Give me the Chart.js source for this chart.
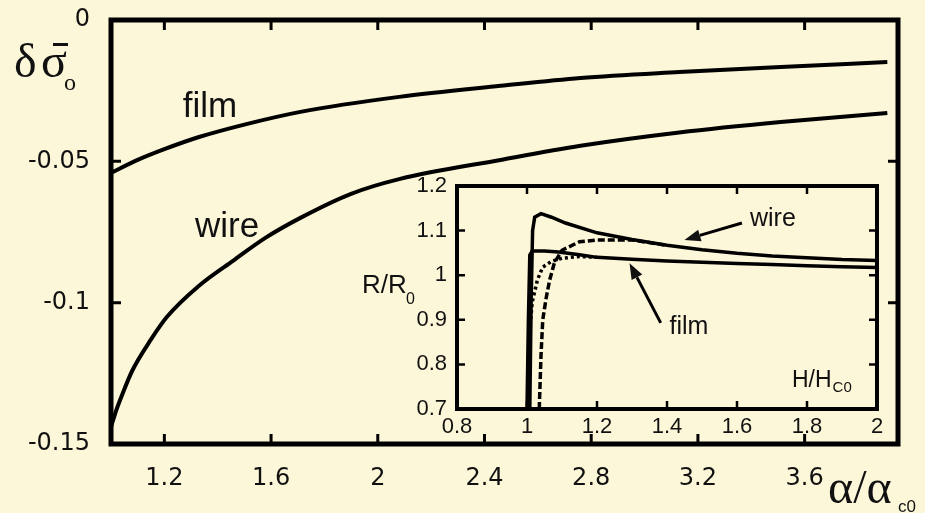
<!DOCTYPE html>
<html>
<head>
<meta charset="utf-8">
<script src="https://cdn.jsdelivr.net/npm/chart.js@4/dist/chart.umd.min.js"></script>
<style>
  html, body { margin: 0; padding: 0; background: #FDF7D9; }
  #wrap { position: relative; width: 925px; height: 513px; overflow: hidden; }
  #mainChart { position: absolute; left: 0; top: 0; }
  #insetChart { position: absolute; left: 340px; top: 175px; }
</style>
</head>
<body>
<div id="wrap">
  <canvas id="mainChart" width="925" height="513" style="width:925px;height:513px"></canvas>
  <canvas id="insetChart" width="560" height="270" style="width:560px;height:270px"></canvas>
</div>
<script>
// ---- main plot: delta sigma vs alpha/alpha_c0 ----
const mainXTicks = [1.2, 1.6, 2.0, 2.4, 2.8, 3.2, 3.6];
const mainYTicks = [0, -0.05, -0.1, -0.15];

const wireAlpha = [1.0, 1.02, 1.04, 1.08, 1.15, 1.21, 1.33, 1.46, 1.58, 1.71, 1.9, 2.08, 2.46, 2.76, 3.13, 3.51, 3.91];
const wireSigma = [-0.144, -0.138, -0.133, -0.124, -0.113, -0.105, -0.094, -0.085, -0.077, -0.070, -0.0615, -0.0563, -0.0495, -0.0445, -0.0398, -0.0361, -0.0329];

const filmAlpha = [1.0, 1.1, 1.2, 1.33, 1.5, 1.71, 2.08, 2.46, 2.76, 3.13, 3.51, 3.91];
const filmSigma = [-0.0541, -0.0495, -0.0457, -0.0414, -0.0370, -0.0325, -0.0272, -0.0233, -0.0205, -0.0184, -0.0166, -0.0149];

// ---- inset: R/R0 vs H/Hc0 ----
const insetXTicks = [0.8, 1.0, 1.2, 1.4, 1.6, 1.8, 2.0];
const insetYTicks = [0.7, 0.8, 0.9, 1.0, 1.1, 1.2];

const wireSolidH = [1.008, 1.012, 1.016, 1.022, 1.04, 1.07, 1.11, 1.2, 1.3, 1.4, 1.5, 1.6, 1.7, 1.8, 1.9, 2.0];
const wireSolidR = [0.70, 0.95, 1.10, 1.13, 1.138, 1.130, 1.117, 1.095, 1.080, 1.067, 1.057, 1.049, 1.043, 1.039, 1.035, 1.033];

const wireDashH = [1.035, 1.04, 1.045, 1.055, 1.065, 1.078, 1.1, 1.15, 1.2, 1.3, 1.4];
const wireDashR = [0.70, 0.82, 0.90, 0.95, 0.99, 1.027, 1.056, 1.075, 1.079, 1.079, 1.067];

const filmSolidH = [1.0, 1.004, 1.008, 1.015, 1.05, 1.09, 1.15, 1.2, 1.3, 1.4, 1.5, 1.6, 1.7, 1.8, 1.9, 2.0];
const filmSolidR = [0.70, 0.90, 1.045, 1.054, 1.054, 1.052, 1.046, 1.040, 1.036, 1.032, 1.029, 1.026, 1.024, 1.021, 1.019, 1.017];

const filmDashH = [1.002, 1.006, 1.015, 1.03, 1.045, 1.07, 1.1, 1.15, 1.2];
const filmDashR = [0.70, 0.86, 0.94, 0.99, 1.018, 1.031, 1.038, 1.042, 1.040];

const BG = '#FDF7D9';
const INK = '#111';

const toPoints = (xs, ys) => xs.map((x, i) => ({ x: x, y: ys[i] }));
const fmt = v => String(parseFloat(Number(v).toFixed(2)));

// cream background + frame + inward tick marks
const framePlugin = {
  id: 'frame',
  beforeDraw(chart, args, opts) {
    const { ctx, chartArea: a } = chart;
    ctx.save();
    ctx.fillStyle = BG;
    if (opts.fillAll) ctx.fillRect(0, 0, chart.width, chart.height);
    else ctx.fillRect(a.left, a.top, a.width, a.height);
    ctx.restore();
  },
  afterDatasetsDraw(chart, args, opts) {
    const { ctx, chartArea: a, scales: { x, y } } = chart;
    ctx.save();
    ctx.strokeStyle = '#000';
    ctx.lineWidth = opts.tickWidth;
    ctx.beginPath();
    x.ticks.forEach(t => {
      if (t.value <= x.min || t.value >= x.max) return;
      const px = x.getPixelForValue(t.value);
      ctx.moveTo(px, a.bottom); ctx.lineTo(px, a.bottom - opts.tickLen);
      ctx.moveTo(px, a.top); ctx.lineTo(px, a.top + opts.tickLen);
    });
    y.ticks.forEach(t => {
      if (t.value <= y.min || t.value >= y.max) return;
      const py = y.getPixelForValue(t.value);
      ctx.moveTo(a.left, py); ctx.lineTo(a.left + opts.tickLen, py);
      ctx.moveTo(a.right, py); ctx.lineTo(a.right - opts.tickLen, py);
    });
    ctx.stroke();
    ctx.lineWidth = opts.frameWidth;
    ctx.strokeRect(a.left, a.top, a.width, a.height);
    ctx.restore();
  }
};

// text labels and arrows placed in data coordinates
const notesPlugin = {
  id: 'notes',
  afterDraw(chart, args, opts) {
    const { ctx, scales: { x, y }, chartArea: a } = chart;
    ctx.save();
    ctx.fillStyle = INK;
    ctx.strokeStyle = '#000';
    (opts.labels || []).forEach(n => {
      ctx.font = n.font;
      ctx.textAlign = n.align || 'left';
      ctx.textBaseline = n.baseline || 'middle';
      ctx.fillText(n.text, x.getPixelForValue(n.x), y.getPixelForValue(n.y));
    });
    (opts.arrows || []).forEach(ar => {
      const x1 = x.getPixelForValue(ar.from[0]), y1 = y.getPixelForValue(ar.from[1]);
      const x2 = x.getPixelForValue(ar.to[0]), y2 = y.getPixelForValue(ar.to[1]);
      const ang = Math.atan2(y2 - y1, x2 - x1);
      const hl = 16, hw = 6;
      const bx = x2 - hl * Math.cos(ang), by = y2 - hl * Math.sin(ang);
      ctx.lineWidth = 3;
      ctx.beginPath(); ctx.moveTo(x1, y1); ctx.lineTo(bx, by); ctx.stroke();
      ctx.beginPath();
      ctx.moveTo(x2, y2);
      ctx.lineTo(bx + hw * Math.sin(ang), by - hw * Math.cos(ang));
      ctx.lineTo(bx - hw * Math.sin(ang), by + hw * Math.cos(ang));
      ctx.closePath(); ctx.fill();
    });
    if (opts.titles) opts.titles(ctx, a);
    ctx.restore();
  }
};

// no extra label overflow padding, so the plot box sits exactly where layout puts it
const noPadX = s => { s.paddingLeft = 0; s.paddingRight = 0; };
const noPadY = s => { s.paddingTop = 0; s.paddingBottom = 0; };

const baseOpts = {
  responsive: false,
  animation: false,
  events: [],
  plugins: { legend: { display: false }, tooltip: { enabled: false } }
};

// main chart
new Chart(document.getElementById('mainChart'), {
  type: 'line',
  data: {
    datasets: [
      { label: 'film', data: toPoints(filmAlpha, filmSigma) },
      { label: 'wire', data: toPoints(wireAlpha, wireSigma) }
    ].map(d => Object.assign(d, {
      borderColor: '#000', borderWidth: 4, pointRadius: 0,
      cubicInterpolationMode: 'monotone', fill: false
    }))
  },
  options: Object.assign({}, baseOpts, {
    layout: { padding: { top: 20, right: 27, left: 0, bottom: 0 } },
    scales: {
      x: {
        type: 'linear', min: 1, max: 3.95,
        afterBuildTicks: s => { s.ticks = mainXTicks.map(v => ({ value: v })); },
        afterFit: s => { s.height = 69; noPadX(s); },
        grid: { display: false, drawTicks: false },
        border: { display: false },
        ticks: { padding: 20, color: INK, font: { family: 'DejaVu Sans', size: 24 }, callback: fmt, maxRotation: 0 }
      },
      y: {
        type: 'linear', min: -0.15, max: 0,
        afterBuildTicks: s => { s.ticks = mainYTicks.map(v => ({ value: v })); },
        afterFit: s => { s.width = 111; noPadY(s); },
        grid: { display: false, drawTicks: false },
        border: { display: false },
        ticks: { padding: 21, color: INK, font: { family: 'DejaVu Sans', size: 24 }, callback: fmt }
      }
    },
    plugins: Object.assign({}, baseOpts.plugins, {
      frame: { fillAll: true, tickWidth: 3, tickLen: 10, frameWidth: 5 },
      notes: {
        labels: [
          { text: 'film', x: 1.371, y: -0.0308, align: 'center', font: '35px "Liberation Sans"' },
          { text: 'wire', x: 1.435, y: -0.0732, align: 'center', font: '35px "Liberation Sans"' }
        ],
        titles: (ctx, a) => {
          // y title: delta sigma-bar sub 0
          ctx.textAlign = 'left';
          ctx.textBaseline = 'alphabetic';
          ctx.font = '48px "Liberation Serif"';
          ctx.fillText('δ', a.left - 97, a.top + 57);
          ctx.fillText('σ', a.left - 70, a.top + 57);
          ctx.fillRect(a.left - 58, a.top + 23, 15, 3);
          ctx.font = '24px "Liberation Serif"';
          ctx.fillText('o', a.left - 47, a.top + 70);
          // x title: alpha / alpha sub c0
          ctx.font = '48px "Liberation Serif"';
          ctx.fillText('α/α', a.right - 70, a.bottom + 59);
          ctx.font = '17px "Liberation Sans"';
          ctx.fillText('c0', a.right + 0, a.bottom + 68);
        }
      }
    })
  }),
  plugins: [framePlugin, notesPlugin]
});

// inset chart
const insetSets = [
  { data: toPoints(wireSolidH, wireSolidR), borderDash: [] },
  { data: toPoints(filmSolidH, filmSolidR), borderDash: [] },
  { data: toPoints(wireDashH, wireDashR), borderDash: [7, 3] },
  { data: toPoints(filmDashH, filmDashR), borderDash: [3, 3] }
].map(d => Object.assign(d, {
  borderColor: '#000', borderWidth: 3.5, pointRadius: 0, tension: 0, fill: false
}));

new Chart(document.getElementById('insetChart'), {
  type: 'line',
  data: { datasets: insetSets },
  options: Object.assign({}, baseOpts, {
    layout: { padding: { top: 11, right: 23, left: 0, bottom: 0 } },
    scales: {
      x: {
        type: 'linear', min: 0.8, max: 2,
        afterBuildTicks: s => { s.ticks = insetXTicks.map(v => ({ value: v })); },
        afterFit: s => { s.height = 36; noPadX(s); },
        grid: { display: false, drawTicks: false },
        border: { display: false },
        ticks: { padding: 5, color: INK, font: { family: 'Liberation Sans', size: 22 }, callback: fmt, maxRotation: 0, autoSkip: false }
      },
      y: {
        type: 'linear', min: 0.7, max: 1.2,
        afterBuildTicks: s => { s.ticks = insetYTicks.map(v => ({ value: v })); },
        afterFit: s => { s.width = 117; noPadY(s); },
        grid: { display: false, drawTicks: false },
        border: { display: false },
        ticks: { padding: 10, color: INK, font: { family: 'Liberation Sans', size: 22 }, callback: fmt, autoSkip: false }
      }
    },
    plugins: Object.assign({}, baseOpts.plugins, {
      frame: { fillAll: false, tickWidth: 2.5, tickLen: 8, frameWidth: 4 },
      notes: {
        labels: [
          { text: 'wire', x: 1.637, y: 1.126, font: '25px "Liberation Sans"' },
          { text: 'film', x: 1.407, y: 0.884, font: '25px "Liberation Sans"' },
          { text: 'H/H', x: 1.757, y: 0.749, baseline: 'alphabetic', font: '23px "Liberation Sans"' },
          { text: 'C0', x: 1.873, y: 0.738, baseline: 'alphabetic', font: '15px "Liberation Sans"' }
        ],
        arrows: [
          { from: [1.614, 1.117], to: [1.45, 1.079] },
          { from: [1.382, 0.893], to: [1.293, 1.027] }
        ],
        titles: (ctx, a) => {
          ctx.textAlign = 'left';
          ctx.textBaseline = 'alphabetic';
          ctx.font = '26px "Liberation Sans"';
          ctx.fillText('R/R', a.left - 95, a.top + 107);
          ctx.font = '16px "Liberation Sans"';
          ctx.fillText('0', a.left - 51, a.top + 118);
        }
      }
    })
  }),
  plugins: [framePlugin, notesPlugin]
});
</script>
</body>
</html>
